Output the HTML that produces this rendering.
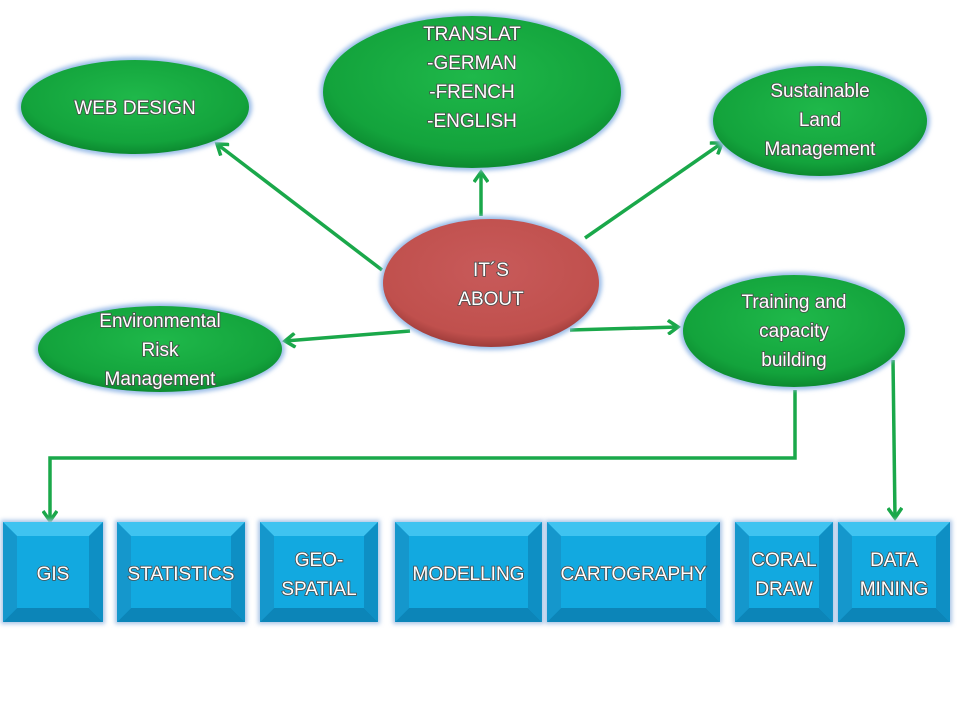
<!DOCTYPE html>
<html><head><meta charset="utf-8"><style>
html,body{margin:0;padding:0;background:#fff;width:960px;height:720px;overflow:hidden}
svg text{font-family:"Liberation Sans",sans-serif;font-size:19px;fill:#fff;text-anchor:middle;paint-order:stroke;stroke:#4a4a4a;stroke-width:1.6px}
</style></head><body>
<svg width="960" height="720" viewBox="0 0 960 720" xmlns="http://www.w3.org/2000/svg">
<defs>
<radialGradient id="g" cx="50%" cy="40%" r="60%"><stop offset="0" stop-color="#1fb84a"/><stop offset="0.8" stop-color="#13a33c"/><stop offset="1" stop-color="#0c8a30"/></radialGradient>
<radialGradient id="r" cx="50%" cy="40%" r="60%"><stop offset="0" stop-color="#c85a5a"/><stop offset="0.85" stop-color="#c0504d"/><stop offset="1" stop-color="#9e3c3a"/></radialGradient>
<marker id="a" markerWidth="16" markerHeight="16" refX="12" refY="8" orient="auto" markerUnits="userSpaceOnUse"><path d="M2,1 L12,8 L2,15" fill="none" stroke="#1aa84a" stroke-width="3.5"/></marker>
<filter id="glow" x="-10%" y="-10%" width="120%" height="120%"><feGaussianBlur stdDeviation="2"/></filter>
</defs>
<g stroke="#1aa84a" stroke-width="3.5" fill="none" marker-end="url(#a)">
<line x1="382" y1="270" x2="217" y2="144"/>
<line x1="481" y1="216" x2="481" y2="172"/>
<line x1="585" y1="238" x2="722" y2="143"/>
<line x1="410" y1="331" x2="285" y2="341"/>
<line x1="570" y1="330" x2="678" y2="327"/>
<polyline points="795,390 795,458 50,458 50,521"/>
<line x1="893" y1="360" x2="895" y2="518"/>
</g>
<g>
<ellipse cx="135" cy="107" rx="117" ry="50" fill="#9bbde8" filter="url(#glow)"/>
<ellipse cx="135" cy="107" rx="114" ry="47" fill="url(#g)"/>
<ellipse cx="472" cy="92" rx="152" ry="79" fill="#9bbde8" filter="url(#glow)"/>
<ellipse cx="472" cy="92" rx="149" ry="76" fill="url(#g)"/>
<ellipse cx="820" cy="121" rx="110" ry="58" fill="#9bbde8" filter="url(#glow)"/>
<ellipse cx="820" cy="121" rx="107" ry="55" fill="url(#g)"/>
<ellipse cx="491" cy="283" rx="111" ry="67" fill="#9bbde8" filter="url(#glow)"/>
<ellipse cx="491" cy="283" rx="108" ry="64" fill="url(#r)"/>
<ellipse cx="160" cy="349" rx="125" ry="46" fill="#9bbde8" filter="url(#glow)"/>
<ellipse cx="160" cy="349" rx="122" ry="43" fill="url(#g)"/>
<ellipse cx="794" cy="331" rx="114" ry="59" fill="#9bbde8" filter="url(#glow)"/>
<ellipse cx="794" cy="331" rx="111" ry="56" fill="url(#g)"/>
</g>
<text x="135" y="114">WEB DESIGN</text>
<text x="472" y="40">TRANSLAT</text>
<text x="472" y="69">-GERMAN</text>
<text x="472" y="98">-FRENCH</text>
<text x="472" y="127">-ENGLISH</text>
<text x="820" y="97">Sustainable</text>
<text x="820" y="126">Land</text>
<text x="820" y="155">Management</text>
<text x="491" y="276">IT´S</text>
<text x="491" y="305">ABOUT</text>
<text x="160" y="327">Environmental</text>
<text x="160" y="356">Risk</text>
<text x="160" y="385">Management</text>
<text x="794" y="308">Training and</text>
<text x="794" y="337">capacity</text>
<text x="794" y="366">building</text>
<g id="boxes"></g>
</svg>
<script>
var b=[[3,103,["GIS"]],[117,245,["STATISTICS"]],[260,378,["GEO-","SPATIAL"]],[395,542,["MODELLING"]],[547,720,["CARTOGRAPHY"]],[735,833,["CORAL","DRAW"]],[838,950,["DATA","MINING"]]];
var s="",y1=522,y2=622,bv=14;
b.forEach(function(o){var x1=o[0],x2=o[1];
s+='<rect x="'+(x1-2)+'" y="'+(y1-2)+'" width="'+(x2-x1+4)+'" height="'+(y2-y1+4)+'" fill="#a9c4e6" filter="url(#glow)"/>';
s+='<rect x="'+x1+'" y="'+y1+'" width="'+(x2-x1)+'" height="'+(y2-y1)+'" fill="#12a9e0"/>';
s+='<polygon points="'+x1+','+y1+' '+x2+','+y1+' '+(x2-bv)+','+(y1+bv)+' '+(x1+bv)+','+(y1+bv)+'" fill="#3fc3f0"/>';
s+='<polygon points="'+x1+','+y2+' '+x2+','+y2+' '+(x2-bv)+','+(y2-bv)+' '+(x1+bv)+','+(y2-bv)+'" fill="#0c85b8"/>';
s+='<polygon points="'+x1+','+y1+' '+(x1+bv)+','+(y1+bv)+' '+(x1+bv)+','+(y2-bv)+' '+x1+','+y2+'" fill="#1597cc"/>';
s+='<polygon points="'+x2+','+y1+' '+(x2-bv)+','+(y1+bv)+' '+(x2-bv)+','+(y2-bv)+' '+x2+','+y2+'" fill="#0e8fc4"/>';
var cx=(x1+x2)/2,l=o[2];
l.forEach(function(t,i){var y=l.length==1?580:566+i*29;s+='<text x="'+cx+'" y="'+y+'">'+t+'</text>';});
});
document.getElementById("boxes").innerHTML=s;
</script>
</body></html>
